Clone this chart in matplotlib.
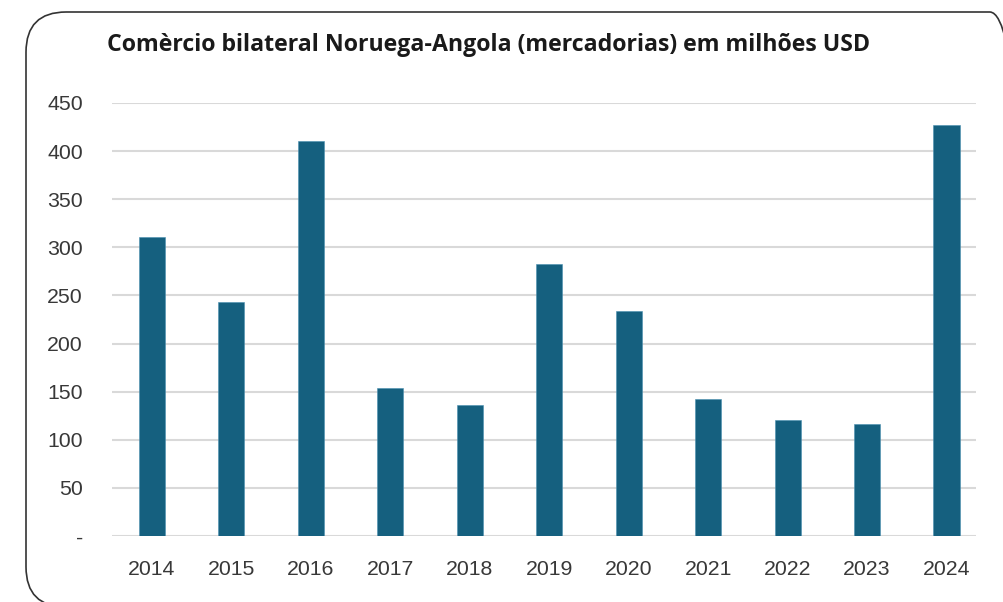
import matplotlib
matplotlib.use("Agg")
import matplotlib.pyplot as plt
from matplotlib.patches import FancyBboxPatch

years = ["2014", "2015", "2016", "2017", "2018", "2019", "2020", "2021", "2022", "2023", "2024"]
values = [311, 243, 411, 154, 136, 283, 234, 142, 121, 116, 427]
ytick_values = [0, 50, 100, 150, 200, 250, 300, 350, 400, 450]
ytick_labels = ["-", "50", "100", "150", "200", "250", "300", "350", "400", "450"]
title = "Comèrcio bilateral Noruega-Angola (mercadorias) em milhões USD"

W, H = 1004, 602
fig = plt.figure(figsize=(W / 100, H / 100), dpi=100)
fig.patch.set_facecolor("white")

# rounded frame
frame = FancyBboxPatch((26 / W, (H - 607) / H), (1030 - 26) / W, (607 - 12) / H,
                       boxstyle="round,pad=0,rounding_size=0.04",
                       transform=fig.transFigure, facecolor="none",
                       edgecolor="#333333", linewidth=1.2, mutation_aspect=W / H)
fig.patches.append(frame)

ax = fig.add_axes([112 / W, 1 - 536 / H, (976 - 112) / W, (536 - 103) / H])
x = list(range(len(years)))
ax.bar(x, values, width=0.33, color="#15607f", edgecolor="#4a8fb0", linewidth=0.4, zorder=3)
ax.set_xlim(-0.5, 10.37)
ax.set_ylim(0, 450)
ax.set_yticks(ytick_values)
ax.set_yticklabels(ytick_labels)
ax.set_xticks(x)
ax.set_xticklabels(years)
ax.grid(axis="y", color="#d9d9d9", linewidth=1.5, zorder=0)
ax.set_axisbelow(True)
for s in ["top", "right", "left", "bottom"]:
    ax.spines[s].set_visible(False)
ax.tick_params(axis="both", length=0, labelsize=15.3, colors="#383838")
ax.tick_params(axis="y", pad=21)
ax.tick_params(axis="x", pad=17)
for lab in ax.get_xticklabels() + ax.get_yticklabels():
    lab.set_fontfamily("Liberation Sans")

fig.text(107 / W, 1 - 45 / H, title, fontsize=16.7, fontweight="bold",
         family="Open Sans", color="#1a1a1a", ha="left", va="center")

fig.savefig("out.png", dpi=100)
